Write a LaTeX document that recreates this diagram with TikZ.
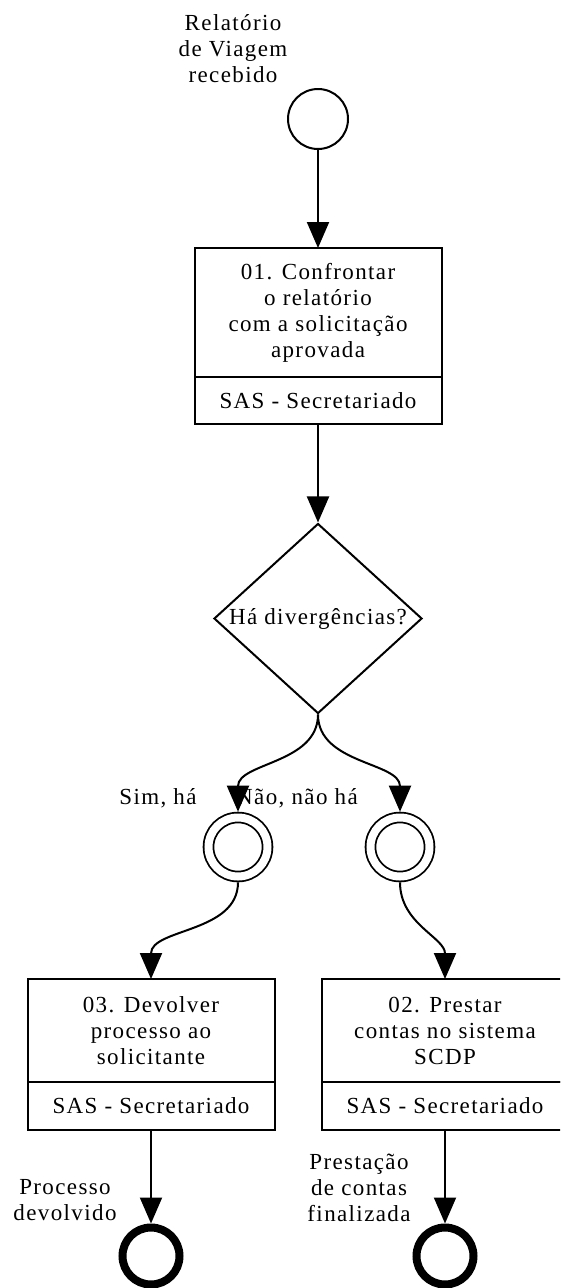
\documentclass[tikz,border=0pt]{standalone}
\usepackage{fontspec}
\setmainfont{Liberation Serif}[LetterSpace=6]
\usetikzlibrary{shapes.geometric, arrows.meta, positioning}

\begin{document}
\begin{tikzpicture}[
        x=1pt, y=1pt,
        every node/.style={font=\fontsize{23}{26}\selectfont},
        ev/.style={draw, circle, line width=2pt, minimum size=60pt, inner sep=0pt},
        evmid/.style={draw, circle, line width=1.8pt, double, double distance=8pt,
            minimum size=59pt, inner sep=0pt, outer sep=5.8pt},
        evend/.style={draw, circle, line width=8pt, minimum size=57pt, inner sep=0pt},
        tarefa/.style={draw, line width=2pt, minimum width=247pt, align=center,
            inner sep=0pt, outer sep=0pt},
        papel/.style={draw, line width=2pt, minimum width=247pt, minimum height=48pt,
            inner sep=0pt, outer sep=0pt},
        gw/.style={draw, diamond, line width=2pt, minimum width=208pt, minimum height=190pt,
            inner sep=0pt},
        fluxo/.style={-{Triangle[length=26pt, width=22pt]}, line width=2pt},
        rot/.style={align=center, inner sep=0pt}
    ]
        \useasboundingbox (0,0) rectangle (560,-1288);
        \clip (0,0) rectangle (560,-1288);

        % evento inicial
        \node[ev] (inicio) at (318,-119) {};
        \node[rot] (inicioLbl) at (233,-49) {Relatório\\de Viagem\\recebido};

        % tarefa 01
        \node[tarefa, minimum height=129pt] (t1) at (318,-312.5)
            {01. Confrontar\\o relatório\\com a solicitação\\aprovada};
        \node[papel, minimum height=47pt, below=0pt of t1] (p1) {SAS - Secretariado};

        % gateway
        \node[gw] (gw1) at (318,-618.5) {};
        \node (gw1txt) at (gw1) {Há divergências?};

        % eventos intermediarios
        \node[evmid] (g1) at (238,-847) {};
        \node[evmid] (g2) at (400,-847) {};
        \node[rot] (simLbl) at (158,-798) {Sim, há};
        \node[rot] (naoLbl) at (297,-798) {Não, não há};

        % tarefas 03 e 02
        \node[tarefa, minimum height=103pt] (t3) at (151,-1030.5)
            {03. Devolver\\processo ao\\solicitante};
        \node[papel, below=0pt of t3] (p3) {SAS - Secretariado};
        \node[tarefa, minimum height=103pt] (t2) at (445,-1030.5)
            {02. Prestar\\contas no sistema\\SCDP};
        \node[papel, below=0pt of t2] (p2) {SAS - Secretariado};

        % eventos finais
        \node[evend] (fim3) at (151,-1256) {};
        \node[evend] (fim2) at (445,-1256) {};
        \node[rot] (fim3Lbl) at (65,-1200) {Processo\\devolvido};
        \node[rot] (fim2Lbl) at (359,-1188) {Prestação\\de contas\\finalizada};

        % fluxos
        \draw[fluxo] (inicio) -- (t1);
        \draw[fluxo] (p1) -- (gw1);
        \draw[fluxo] (gw1.south) to[out=-90, in=90] (g1);
        \draw[fluxo] (gw1.south) to[out=-90, in=90] (g2);
        \draw[fluxo] (g1) to[out=-90, in=90] (t3);
        \draw[fluxo] (g2) to[out=-90, in=90] (t2);
        \draw[fluxo] (p3) -- (fim3);
        \draw[fluxo] (p2) -- (fim2);
\end{tikzpicture}
\end{document}
